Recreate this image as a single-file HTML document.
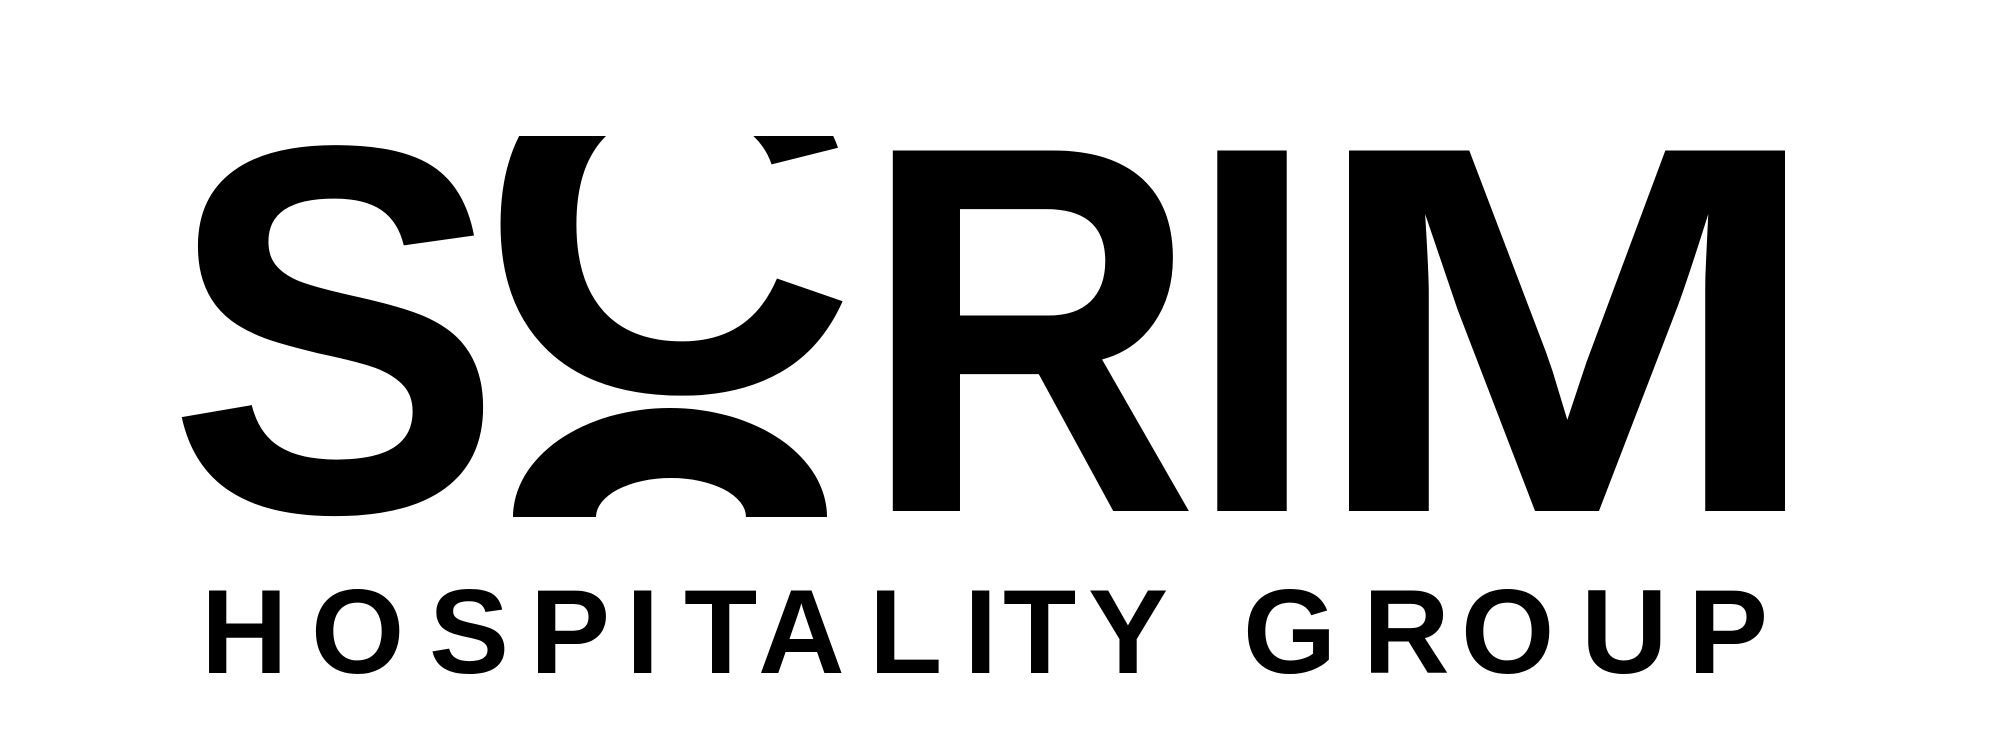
<!DOCTYPE html>
<html><head><meta charset="utf-8"><style>
html,body{margin:0;padding:0;background:#fff;width:2000px;height:755px;overflow:hidden}
svg{display:block}
text{font-family:"Liberation Sans",sans-serif;font-weight:bold;fill:#000}
.tg{font-size:120px}
</style></head><body>
<svg width="2000" height="755" viewBox="0 0 2000 755">
  <defs>
    <clipPath id="cTop"><rect x="490" y="136" width="360" height="270"/></clipPath>
  </defs>
  <g transform="translate(335,511) scale(0.96,1)">
    <text x="0" y="0" style="font-size:524px" text-anchor="middle">S</text>
  </g>
  <g clip-path="url(#cTop)">
    <g transform="translate(668,391) scale(1.09,1)">
      <text x="0" y="0" style="font-size:480px" text-anchor="middle">C</text>
    </g>
  </g>
  <path d="M513,517 A157,109 0 0 1 827,517 L746,517 A75,39 0 0 0 596,517 Z" fill="#000"/>
  <g transform="translate(1030,511) scale(0.89,1)">
    <text x="0" y="0" style="font-size:524px" text-anchor="middle">R</text>
  </g>
  <g transform="translate(1252,511) scale(0.92,1)">
    <text x="0" y="0" style="font-size:524px" text-anchor="middle">I</text>
  </g>
  <g transform="translate(1567,511) scale(1.19,1)">
    <text x="0" y="0" style="font-size:524px" text-anchor="middle">M</text>
  </g>
  <g>
    <text class="tg" style="font-size:120px" x="201" y="673">H</text>
    <text class="tg" style="font-size:120px" x="311" y="673">O</text>
    <text class="tg" style="font-size:120px" x="429" y="673">S</text>
    <text class="tg" style="font-size:120px" x="530" y="673">P</text>
    <text class="tg" style="font-size:120px" x="626" y="673">I</text>
    <text class="tg" style="font-size:120px" x="684" y="673">T</text>
    <text class="tg" style="font-size:120px" x="758" y="673">A</text>
    <text class="tg" style="font-size:120px" x="869" y="673">L</text>
    <text class="tg" style="font-size:120px" x="964" y="673">I</text>
    <text class="tg" style="font-size:120px" x="1003" y="673">T</text>
    <text class="tg" style="font-size:120px" x="1088" y="673">Y</text>
    <text class="tg" style="font-size:120px" x="1243" y="673">G</text>
    <text class="tg" style="font-size:120px" x="1363" y="673">R</text>
    <text class="tg" style="font-size:120px" x="1461" y="673">O</text>
    <text class="tg" style="font-size:120px" x="1581" y="673">U</text>
    <text class="tg" style="font-size:120px" x="1688" y="673">P</text>
  </g>
</svg>
</body></html>
